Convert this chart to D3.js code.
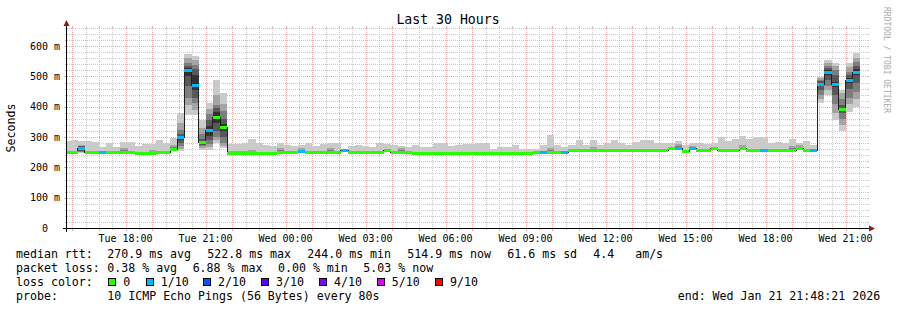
<!DOCTYPE html>
<html>
<head>
<meta charset="utf-8">
<script src="https://d3js.org/d3.v7.min.js"></script>
<style>
    body { margin: 0; background: #fff; }
    text { font-family: "DejaVu Sans Mono", monospace; fill: #000; white-space: pre; }
</style>
</head>
<body>
<div id="cont"></div>
<script>
    // time range of the graph and the consolidated buckets (16 min each)
    var endTime = new Date(2026, 0, 21, 21, 48, 21);
    var startTime = new Date(endTime.getTime() - 30 * 3600 * 1000);
    var firstBucket = new Date(2026, 0, 20, 15, 40, 40);
    var stepSec = 960;

    // median rtt per bucket (ms), 10 per row
    var median = [
        250,250,262,250,250,250,250,250,250,250,
        246,246,246,250,250,259,298,521,471,283,
        321,364,331,247,247,247,246,246,246,246,
        250,250,250,252,250,250,250,250,250,255,
        250,250,250,250,250,256,250,250,250,246,
        246,246,246,246,246,246,246,246,246,246,
        246,246,246,246,246,246,248,248,250,250,
        250,255,255,255,255,255,255,255,255,255,
        257,257,257,257,257,262,264,252,264,255,
        255,262,257,257,257,262,257,257,257,257,
        257,257,257,262,257,257,474,513,474,391,
        488,513
    ];
    // lost pings per bucket (index into lossColors), 10 per row
    var loss = [
        0,0,1,0,0,1,0,0,0,0,
        0,0,0,0,0,0,1,1,1,0,
        1,0,0,0,0,0,0,0,0,0,
        0,0,0,1,0,0,0,0,0,1,
        0,0,0,0,0,0,0,0,0,0,
        0,0,0,0,0,0,0,0,0,0,
        0,0,0,0,0,0,0,1,0,0,
        1,0,0,0,0,0,0,0,0,0,
        0,0,0,0,0,0,1,0,1,0,
        0,0,0,0,0,0,0,0,1,0,
        0,0,0,0,0,1,1,1,1,0,
        1,1
    ];
    // the 10 sorted pings of each bucket (ms)
    var pings = [
        [247,248,249,250,250,250,251,252,255,286],
        [247,248,249,250,250,250,251,252,255,289],
        [248,250,252,253,258,265,270,271,275,286],
        [247,248,249,250,250,250,251,252,255,286],
        [247,248,249,250,250,250,251,252,255,284],
        [247,248,249,250,250,250,251,252,254,266],
        [247,248,249,250,250,250,251,252,255,280],
        [247,248,249,250,250,250,251,252,255,266],
        [247,248,249,250,250,251,252,256,263,284],
        [247,248,249,250,250,250,251,252,255,284],
        [243,244,245,246,246,246,247,248,252,270],
        [243,244,245,246,246,246,247,248,252,277],
        [243,244,245,246,246,247,248,252,259,277],
        [247,248,249,250,250,250,251,252,255,291],
        [247,248,249,250,250,250,251,252,255,280],
        [254,255,256,257,258,260,262,266,275,296],
        [255,262,270,280,292,300,310,325,345,378],
        [373,405,430,470,500,528,535,545,560,574],
        [373,389,411,430,455,505,525,537,554,567],
        [258,264,270,275,280,286,295,310,330,356],
        [257,268,278,290,305,337,355,375,392,411],
        [279,290,300,320,345,383,395,405,440,488],
        [263,270,280,300,320,342,360,385,410,446],
        [244,245,246,247,247,247,248,249,253,277],
        [244,245,246,247,247,247,248,249,253,277],
        [244,245,246,247,247,247,248,249,253,280],
        [243,244,245,246,246,247,248,252,259,295],
        [243,244,245,246,246,246,247,248,252,280],
        [243,244,245,246,246,246,247,248,252,275],
        [243,244,245,246,246,246,247,248,252,270],
        [247,248,249,250,250,251,252,256,263,280],
        [247,248,249,250,250,250,251,252,255,275],
        [247,248,249,250,250,250,251,252,255,270],
        [249,250,251,252,252,253,254,258,264,274],
        [247,248,249,250,250,250,251,252,255,281],
        [247,248,249,250,250,250,251,252,255,270],
        [247,248,249,250,250,250,251,252,255,276],
        [247,248,249,250,250,251,252,256,263,282],
        [247,248,249,250,250,250,251,252,255,281],
        [252,253,254,255,255,255,256,257,258,260],
        [247,248,249,250,250,250,251,252,255,270],
        [247,248,249,250,250,250,251,252,255,275],
        [247,248,249,250,250,250,251,252,255,270],
        [247,248,249,250,250,250,251,252,255,268],
        [247,248,249,250,250,250,251,252,255,279],
        [253,254,255,256,256,256,257,258,261,276],
        [247,248,249,250,250,250,251,252,255,274],
        [247,248,249,250,250,251,252,256,263,272],
        [247,248,249,250,250,250,251,252,255,266],
        [243,244,245,246,246,246,247,248,252,275],
        [243,244,245,246,246,246,247,248,252,268],
        [243,244,245,246,246,246,247,248,252,268],
        [243,244,245,246,246,246,247,248,252,280],
        [243,244,245,246,246,246,247,248,252,280],
        [243,244,245,246,246,246,247,248,252,272],
        [243,244,245,246,246,246,247,248,252,273],
        [243,244,245,246,246,246,247,248,252,277],
        [243,244,245,246,246,246,247,248,252,278],
        [243,244,245,246,246,246,247,248,252,281],
        [243,244,245,246,246,246,247,248,252,282],
        [243,244,245,246,246,246,247,248,252,260],
        [243,244,245,246,246,246,247,248,252,267],
        [243,244,245,246,246,246,247,248,252,268],
        [243,244,245,246,246,246,247,248,252,275],
        [243,244,245,246,246,246,247,248,252,262],
        [243,244,245,246,246,246,247,248,252,260],
        [245,246,247,248,248,248,249,250,254,260],
        [245,246,247,248,248,248,249,250,254,275],
        [247,248,249,250,250,251,252,256,265,308],
        [247,248,249,250,250,250,251,252,255,275],
        [247,248,249,250,250,250,251,252,255,267],
        [252,253,254,255,255,255,256,257,260,275],
        [252,253,254,255,255,255,256,257,260,291],
        [252,253,254,255,255,255,256,257,260,275],
        [252,253,254,255,255,256,257,261,268,289],
        [252,253,254,255,255,255,256,257,260,275],
        [252,253,254,255,255,255,256,257,260,280],
        [252,253,254,255,255,255,256,257,260,292],
        [252,253,254,255,255,255,256,257,260,280],
        [252,253,254,255,255,255,256,257,260,275],
        [254,255,256,257,257,257,258,259,262,284],
        [254,255,256,257,257,257,258,259,262,289],
        [254,255,256,257,257,257,258,259,262,289],
        [254,255,256,257,257,257,258,259,262,280],
        [254,255,256,257,257,257,258,259,262,280],
        [259,260,261,262,262,262,263,264,267,280],
        [261,262,263,264,264,265,266,270,276,286],
        [249,250,251,252,252,252,253,254,257,275],
        [261,262,263,264,264,264,265,266,269,280],
        [252,253,254,255,255,255,256,257,260,280],
        [252,253,254,255,255,255,256,257,260,278],
        [259,260,261,262,262,262,263,264,267,280],
        [254,255,256,257,257,257,258,259,262,300],
        [254,255,256,257,257,257,258,259,262,286],
        [254,255,256,257,257,257,258,259,262,295],
        [259,260,261,262,262,263,264,268,275,302],
        [254,255,256,257,257,257,258,259,262,295],
        [254,255,256,257,257,257,258,259,262,299],
        [254,255,256,257,257,257,258,259,262,299],
        [254,255,256,257,257,257,258,259,262,280],
        [254,255,256,257,257,257,258,259,262,283],
        [254,255,256,257,257,257,258,259,262,280],
        [254,255,256,257,257,258,259,263,270,293],
        [259,260,261,262,262,263,264,268,274,280],
        [254,255,256,257,257,257,258,259,262,286],
        [254,255,256,257,257,257,258,259,262,275],
        [414,425,440,455,468,480,485,490,495,499],
        [438,455,470,490,505,520,528,535,545,554],
        [356,380,410,440,465,483,505,520,535,546],
        [321,340,360,378,388,394,405,425,445,457],
        [383,410,430,460,480,496,505,515,530,543],
        [400,425,450,480,505,525,535,548,560,579]
    ];

    var lossColors = ["#26ff00", "#00b8ff", "#0059ff", "#5e00ff", "#7e00ff", "#dd00ff", "#ff0000"];
    var lossLabels = ["0", "1/10", "2/10", "3/10", "4/10", "5/10", "9/10"];
    var smokeColors = ["#cacaca", "#a4a4a4", "#7e7e7e", "#585858", "#323232"];
    var yTicks = [0, 100, 200, 300, 400, 500, 600];

    var rttLegend = ["270.9 ms avg", "522.8 ms max", "244.0 ms min", "514.9 ms now", "61.6 ms sd", "4.4   am/s"];
    var lossLegend = ["0.38 % avg", "6.88 % max", "0.00 % min", "5.03 % now"];
    var probeText = "10 ICMP Echo Pings (56 Bytes) every 80s";

    var W = 897, H = 310;
    var X0 = 67, X1 = 867, Y0 = 228, Y1 = 28;

    var svg = d3.select("#cont").append("svg")
        .attr("width", W)
        .attr("height", H)
        .style("background", "#fff");

    var x = d3.scaleTime().domain([startTime, endTime]).range([X0, X1]);
    var y = d3.scaleLinear().domain([0, 660]).range([Y0, Y1]);

    var bucketX = function(i) {
        return x(new Date(firstBucket.getTime() + i * stepSec * 1000));
    };

    // grid
    var grid = svg.append("g").attr("shape-rendering", "crispEdges");
    var halfHours = d3.timeMinute.every(30).range(startTime, endTime);
    var minorY = d3.range(20, 661, 20);

    var gridCol = "#c8c8c8", mgridCol = "#eca8a8";

    halfHours.forEach(function(t) {
        var px = Math.round(x(t)) + 0.5;
        var major = t.getMinutes() == 0;
        var col = major ? mgridCol : gridCol;
        grid.append("line").attr("x1", px).attr("x2", px).attr("y1", Y1).attr("y2", Y0)
            .attr("stroke", col).attr("stroke-dasharray", "1,1");
        grid.append("line").attr("x1", px).attr("x2", px).attr("y1", Y0).attr("y2", Y0 + (major ? 3 : 2))
            .attr("stroke", col);
        grid.append("line").attr("x1", px).attr("x2", px).attr("y1", Y1 - 2).attr("y2", Y1)
            .attr("stroke", col);
    });
    minorY.forEach(function(v) {
        var py = Math.round(y(v)) + 0.5;
        var major = v % 100 == 0;
        var col = major ? mgridCol : gridCol;
        grid.append("line").attr("x1", X0).attr("x2", X1).attr("y1", py).attr("y2", py)
            .attr("stroke", col).attr("stroke-dasharray", "1,1");
        grid.append("line").attr("x1", X0 - (major ? 3 : 2)).attr("x2", X0).attr("y1", py).attr("y2", py)
            .attr("stroke", col);
        grid.append("line").attr("x1", X1).attr("x2", X1 + 2).attr("y1", py).attr("y2", py)
            .attr("stroke", col);
    });

    // clip for the data
    svg.append("clipPath").attr("id", "plot")
        .append("rect").attr("x", X0).attr("y", Y1).attr("width", X1 - X0).attr("height", Y0 - Y1);

    var data = svg.append("g").attr("clip-path", "url(#plot)").attr("shape-rendering", "crispEdges");

    // smoke
    pings.forEach(function(p, i) {
        var xa = bucketX(i), xb = bucketX(i + 1);
        for (var l = 0; l < 5; l++) {
            var lo = p[l], hi = p[9 - l];
            if (hi <= lo) continue;
            data.append("rect")
                .attr("x", xa).attr("width", xb - xa)
                .attr("y", y(hi)).attr("height", y(lo) - y(hi))
                .attr("fill", smokeColors[l]);
        }
    });

    // median step line
    var pts = median.map(function(m, i) { return [bucketX(i), y(m)]; });
    pts.push([bucketX(median.length), y(median[median.length - 1])]);
    data.append("path")
        .attr("d", d3.line().curve(d3.curveStepAfter)(pts))
        .attr("fill", "none")
        .attr("stroke", "#202020")
        .attr("stroke-width", 1);

    // median coloured by loss
    median.forEach(function(m, i) {
        data.append("rect")
            .attr("x", bucketX(i)).attr("width", bucketX(i + 1) - bucketX(i))
            .attr("y", y(m) - 1.5).attr("height", 3)
            .attr("fill", lossColors[loss[i]]);
    });

    // axes
    var ax = svg.append("g").attr("shape-rendering", "crispEdges");
    ax.append("line").attr("x1", X0 - 4).attr("x2", X1 + 4).attr("y1", Y0 + 0.5).attr("y2", Y0 + 0.5)
        .attr("stroke", "#000");
    ax.append("line").attr("x1", X0 - 0.5).attr("x2", X0 - 0.5).attr("y1", Y0 + 4).attr("y2", Y1 - 4)
        .attr("stroke", "#000");
    svg.append("path").attr("d", "M" + (X1 + 2) + "," + (Y0 - 2.5) + "L" + (X1 + 8) + "," + (Y0 + 0.5) + "L" + (X1 + 2) + "," + (Y0 + 3.5) + "Z")
        .attr("fill", "#8b1a1a");
    svg.append("path").attr("d", "M" + (X0 - 3.5) + "," + (Y1 - 2) + "L" + (X0 - 0.5) + "," + (Y1 - 8) + "L" + (X0 + 2.5) + "," + (Y1 - 2) + "Z")
        .attr("fill", "#8b1a1a");

    // y labels
    yTicks.forEach(function(v) {
        svg.append("text")
            .attr("x", v == 0 ? 48 : 60)
            .attr("y", y(v) + 3.6)
            .attr("text-anchor", "end")
            .style("font-size", "10px")
            .text(v == 0 ? "0" : v + " m");
    });

    // x labels
    var fmt = d3.timeFormat("%a %H:%M");
    d3.timeHour.every(3).range(startTime, endTime).forEach(function(t) {
        svg.append("text")
            .attr("x", x(t))
            .attr("y", 241.5)
            .attr("text-anchor", "middle")
            .style("font-size", "10px")
            .text(fmt(t));
    });

    // title and side texts
    svg.append("text").attr("x", 448).attr("y", 23.5).attr("text-anchor", "middle")
        .style("font-size", "13.2px").text("Last 30 Hours");
    svg.append("text").attr("transform", "translate(15,128) rotate(-90)").attr("text-anchor", "middle")
        .style("font-size", "11.6px").text("Seconds");
    svg.append("text").attr("transform", "translate(884,60) rotate(90)").attr("text-anchor", "middle")
        .style("font-size", "8px").style("fill", "#aaaaaa").text("RRDTOOL / TOBI OETIKER");

    // legend
    var leg = svg.append("g").style("font-size", "11.6px");
    var line = function(yy, label) {
        leg.append("text").attr("x", 16).attr("y", yy).text(label);
    };
    line(258, "median rtt:");
    rttLegend.forEach(function(s, i) {
        leg.append("text").attr("x", 107.3 + i * 100 - (i == 5 ? 14 : 0)).attr("y", 258).text(s);
    });
    line(272, "packet loss:");
    lossLegend.forEach(function(s, i) {
        leg.append("text").attr("x", 107.3 + i * 85.35).attr("y", 272).text(s);
    });
    line(286, "loss color:");
    var boxX = [108.3, 145.7, 203, 261, 319, 376.7, 435];
    lossLabels.forEach(function(s, i) {
        leg.append("rect").attr("x", boxX[i] + 0.5).attr("y", 278.5).attr("width", 7).attr("height", 7)
            .attr("fill", lossColors[i]).attr("stroke", "#000").attr("shape-rendering", "crispEdges");
        leg.append("text").attr("x", boxX[i] + 15).attr("y", 286).text(s);
    });
    line(300, "probe:");
    leg.append("text").attr("x", 107.3).attr("y", 300).text(probeText);
    leg.append("text").attr("x", 677.7).attr("y", 300).text("end: Wed Jan 21 21:48:21 2026");
</script>
</body>
</html>
